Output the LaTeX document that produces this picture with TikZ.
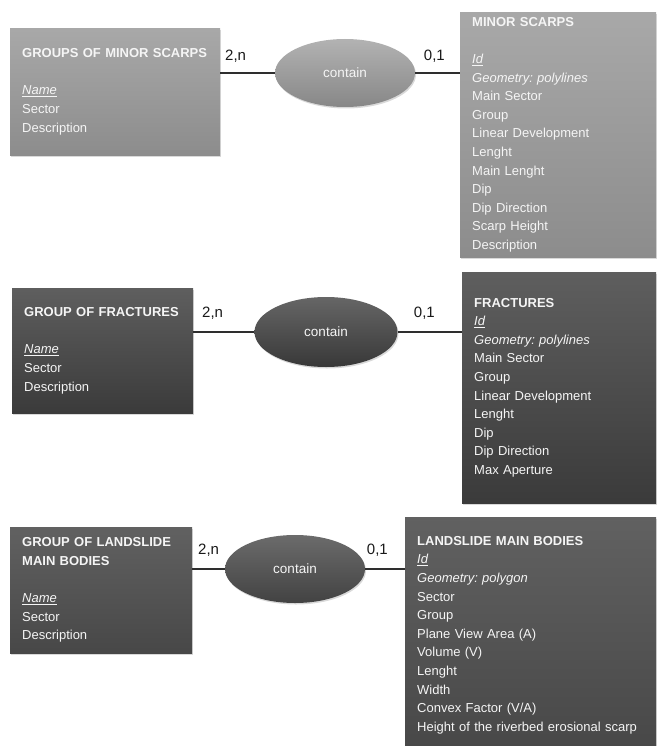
\documentclass[tikz,border=0pt]{standalone}
\usepackage{fontspec}
\setmainfont{Liberation Sans}
\frenchspacing
\usetikzlibrary{shapes.geometric,shadows,positioning}

\begin{document}
\begin{tikzpicture}[
    x=1pt, y=-1pt,
    entity/.style={rectangle, draw=none, align=left, text=white!96!black,
      inner xsep=12pt, inner ysep=0pt, anchor=north west,
      font=\fontsize{13}{18.6}\selectfont,
      drop shadow={opacity=0.3, shadow xshift=1pt, shadow yshift=-1.5pt}},
    paleent/.style={entity, top color=black!34, bottom color=black!45},
    darkent/.style={entity, top color=black!63, bottom color=black!77},
    mident/.style={entity, top color=black!62, bottom color=black!72},
    rel/.style={ellipse, draw=none, minimum width=140pt, minimum height=68pt,
      inner sep=0pt, text=white!96!black, font=\fontsize{13.5}{16}\selectfont,
      drop shadow={opacity=0.3, shadow xshift=1pt, shadow yshift=-1.5pt}},
    palerel/.style={rel, top color=black!30, bottom color=black!47},
    darkrel/.style={rel, top color=black!60, bottom color=black!78},
    midrel/.style={rel, top color=black!58, bottom color=black!74},
    link/.style={line width=2pt, draw=black!82},
    card/.style={font=\fontsize{15}{18}\selectfont, inner sep=0pt, text=black!90}
  ]
    \useasboundingbox (0,0) rectangle (656,746);

    % minor scarps
    \node[paleent, text width=186pt, minimum height=127pt] (grpscarps) at (10,28)
      {\textbf{GROUPS OF MINOR SCARPS}\\[18.6pt]\underline{\textit{Name}}\\Sector\\Description};
    \node[palerel] (rel1) at (345,73) {contain};
    \node[paleent, text width=172pt, minimum height=245pt] (scarps) at (460,12)
      {\textbf{MINOR SCARPS}\\[18.6pt]\underline{\textit{Id}}\\\textit{Geometry: polylines}\\Main Sector\\Group\\Linear Development\\Lenght\\Main Lenght\\Dip\\Dip Direction\\Scarp Height\\Description};

    % fractures
    \node[darkent, text width=157pt, minimum height=125pt] (grpfract) at (12,288)
      {\textbf{GROUP OF FRACTURES}\\[18.6pt]\underline{\textit{Name}}\\Sector\\Description};
    \node[darkrel, minimum width=143pt, minimum height=70pt] (rel2) at (326,332) {contain};
    \node[darkent, text width=170pt, minimum height=231pt] (fract) at (462,272)
      {\textbf{FRACTURES}\\\underline{\textit{Id}}\\\textit{Geometry: polylines}\\Main Sector\\Group\\Linear Development\\Lenght\\Dip\\Dip Direction\\Max Aperture};

    % landslide main bodies
    \node[mident, text width=158pt, minimum height=126pt] (grpbodies) at (10,527)
      {\textbf{GROUP OF LANDSLIDE}\\\textbf{MAIN BODIES}\\[18.6pt]\underline{\textit{Name}}\\Sector\\Description};
    \node[midrel] (rel3) at (295,569) {contain};
    \node[mident, text width=227pt, minimum height=236pt] (bodies) at (405,517)
      {\textbf{LANDSLIDE MAIN BODIES}\\\underline{\textit{Id}}\\\textit{Geometry: polygon}\\Sector\\Group\\Plane View Area (A)\\Volume (V)\\Lenght\\Width\\Convex Factor (V/A)\\Height of the riverbed erosional scarp};

    % cardinalities
    \node[card, anchor=west] (c1n) at (225,56) {2,n};
    \node[card, anchor=east] (c1o) at (445,56) {0,1};
    \node[card, anchor=west] (c2n) at (202,313) {2,n};
    \node[card, anchor=east] (c2o) at (435,313) {0,1};
    \node[card, anchor=west] (c3n) at (198,550) {2,n};
    \node[card, anchor=east] (c3o) at (388,550) {0,1};

    \draw[link] (grpscarps.east |- rel1.west) -- (rel1.west);
    \draw[link] (rel1.east) -- (scarps.west |- rel1.east);
    \draw[link] (grpfract.east |- rel2.west) -- (rel2.west);
    \draw[link] (rel2.east) -- (fract.west |- rel2.east);
    \draw[link] (grpbodies.east |- rel3.west) -- (rel3.west);
    \draw[link] (rel3.east) -- (bodies.west |- rel3.east);
  \end{tikzpicture}
\end{document}
